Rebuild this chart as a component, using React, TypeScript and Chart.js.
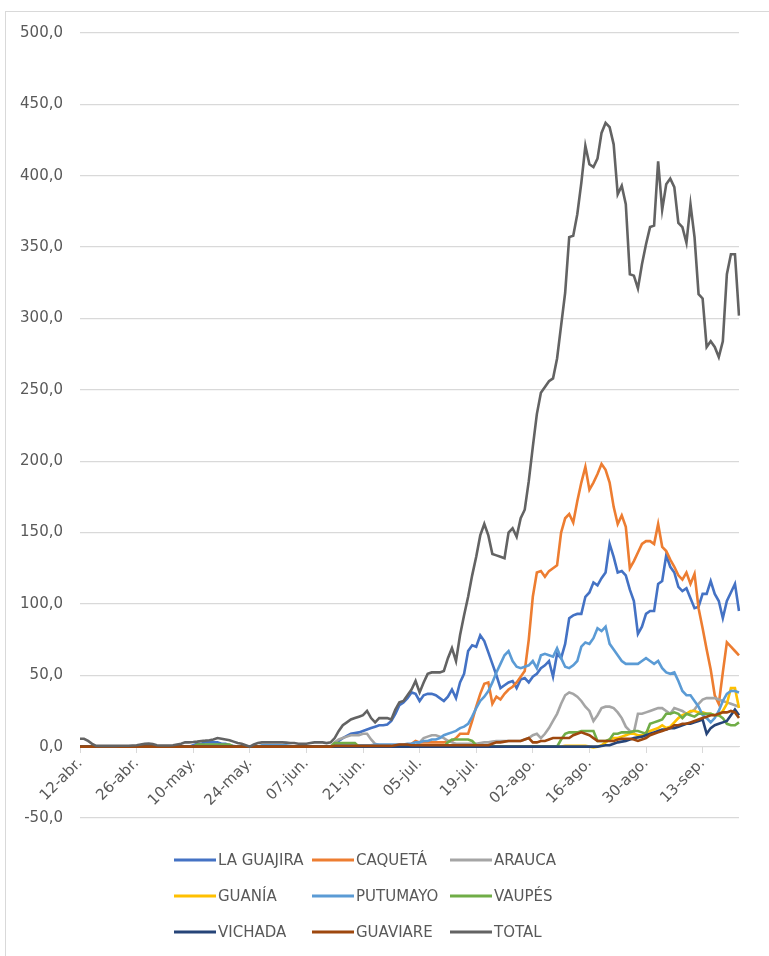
import React, { useEffect, useRef } from 'react';
import { Chart, registerables } from 'chart.js';

Chart.register(...registerables);

// ---- categories (daily, 12-abr. .. 22-sep.) ----
const START_DAY = 12;
const MONTH_NAMES = ['abr.', 'may.', 'jun.', 'jul.', 'ago.', 'sep.'];
const MONTH_LENGTHS = [30, 31, 30, 31, 31, 30];
const DAY_COUNT = 164;
const LABEL_EVERY = 14;

function buildDates(): string[] {
  const out: string[] = [];
  let m = 0;
  let d = START_DAY;
  while (out.length < DAY_COUNT) {
    out.push(String(d).padStart(2, '0') + '-' + MONTH_NAMES[m]);
    d++;
    if (d > MONTH_LENGTHS[m]) { d = 1; m++; }
  }
  return out;
}
const DATES = buildDates();

// ---- y axis ----
const Y_MIN = -50;
const Y_MAX = 500;
const Y_STEP = 50;

// ---- series values ----
const LA_GUAJIRA = [
  0, 0, 0, 0, 0, 0, 0, 0, 0, 0,
  0, 0, 0, 0, 0, 0, 0, 0, 0, 0,
  0, 0, 0, 0, 0, 0, 0, 0, 1, 2,
  2, 3, 3, 3, 3, 2, 2, 1, 0.5, 0,
  0, 0, 0, 0, 0, 0, 0, 0, 0, 0,
  0, 0, 0, 0, 0, 0, 0, 0, 0, 0,
  0, 0, 0, 2, 4, 6, 7.5, 9, 9.5, 10,
  11, 12, 13, 14, 15, 15, 15.5, 18, 23, 29,
  31, 34, 38, 37, 32, 36, 37, 37, 36, 34,
  32, 35, 40, 34, 45, 51, 67, 71, 70, 78,
  74, 66, 58, 50, 41, 43, 45, 46, 41, 47,
  48, 45, 49, 51, 55, 57, 60, 49, 65, 62,
  72, 90, 92, 93, 93, 105, 108, 115, 113, 118,
  122, 142, 133, 122, 123, 120, 110, 102, 79, 84,
  93, 95, 95, 114, 116, 134, 126, 122, 112, 109,
  111, 104, 97, 98, 107, 107, 116, 107, 102, 90,
  102, 108, 114, 95,
];

const CAQUETA = [
  0, 0, 0, 0, 0, 0, 0, 0, 0, 0,
  0, 0, 0, 0, 0, 0, 0, 0, 0, 0,
  0, 0, 0, 0, 0, 0, 0, 0, 0, 0,
  0, 0, 0, 0, 0, 0, 0, 0, 0, 0,
  0, 0, 0, 0, 0, 0, 0, 0, 0, 0,
  0, 0, 0, 0, 0, 0, 0, 0, 0, 0,
  0, 0, 0, 0, 0, 0, 0, 0, 0, 0,
  0, 0, 0, 0, 0, 0, 0, 0, 0, 0,
  0, 0, 2, 4, 3, 3, 3, 3, 3, 3,
  3, 4, 4, 6, 9, 9, 9, 18, 28, 37,
  44, 45, 30, 35, 33, 37, 40, 42, 45, 49,
  53, 75, 105, 122, 123, 119, 123, 125, 127, 150,
  160, 163, 157, 172, 185, 196, 180, 185, 191, 198,
  194, 185, 168, 156, 162, 154, 125, 130, 136, 142,
  144, 144, 142, 156, 140, 137, 131, 126, 120, 117,
  122, 114, 121, 97, 83, 68, 54, 36, 30, 52,
  73, 70, 67, 64,
];

const ARAUCA = [
  0, 0, 0, 0, 0, 0, 0, 0, 0, 0,
  0, 0, 0, 0, 0, 0, 0, 0, 0, 0,
  0, 0, 0, 0, 0, 0, 0, 0, 0, 0,
  0, 0, 0, 0, 0, 0, 0, 0, 0, 0,
  0, 0, 0, 0, 0, 0, 0, 0, 0, 0,
  0, 0, 0, 0, 0, 0, 0, 0, 0, 0,
  0, 0, 0, 3, 5, 6, 7, 8, 8, 8,
  9, 9, 5, 2, 1, 0.5, 0.5, 0.5, 0.5, 0.5,
  0.5, 0.5, 0.5, 0.5, 3, 6, 7, 8, 8, 7,
  6, 4, 3, 2, 2, 2, 2, 2, 2, 2.5,
  3, 3, 3.5, 4, 4, 4, 4, 4, 4, 4,
  5, 6, 8, 9, 6, 9, 13, 18, 23, 30,
  36, 38, 37, 35, 32, 28, 25, 18, 22, 27,
  28, 28, 27, 24, 20, 14, 11, 10, 23, 23,
  24, 25, 26, 27, 27, 25, 23, 27, 26, 25,
  23, 24, 26, 30, 33, 34, 34, 34, 33, 32,
  31, 30, 29, 28,
];

const GUANIA = [
  0, 0, 0, 0, 0, 0, 0, 0, 0, 0,
  0, 0, 0, 0, 0, 0, 0, 0, 0, 0,
  0, 0, 0, 0, 0, 0, 0, 0, 0, 0,
  0, 0, 0, 0, 0, 0, 0, 0, 0, 0,
  0, 0, 0, 0, 0, 0, 0, 0, 0, 0,
  0, 0, 0, 0, 0, 0, 0, 0, 0, 0,
  0, 0, 0, 0, 0, 0, 0, 0, 0, 0,
  0, 0, 0, 0, 0, 0, 0, 0, 0, 0,
  0, 0, 0, 0, 0, 0, 0, 0, 0, 0,
  0, 0, 0, 0, 0, 0, 0, 0, 0, 0,
  0, 0, 0, 0, 0, 0, 0, 0, 0, 0,
  0, 0, 0, 0, 0, 0, 0, 0, 0, 0,
  0.5, 0.5, 0.5, 0.5, 0.5, 0.5, 0, -0.5, 0, 1,
  3, 5, 6, 6, 7, 8, 9, 9, 8, 8,
  10, 11, 12, 13, 15, 13, 14, 17, 20, 22,
  23, 25, 25, 24, 24, 23, 23, 22, 22, 25,
  30, 41, 41, 27,
];

const PUTUMAYO = [
  0, 0, 0, 0, 0, 0, 0, 0, 0, 0,
  0, 0, 0, 0, 0, 0, 0, 0, 0, 0,
  0, 0, 0, 0, 0, 0, 0, 0, 0, 0,
  0, 0, 0, 0, 0, 0, 0, 0, 0, 0,
  0, 0, 0, 0, 0, 1, 1, 1, 1, 1,
  1, 1, 0.5, 0, 0, 0, 0, 0, 0, 0,
  0, 0, 0, 1, 1, 1, 1, 1, 1, 1,
  1, 1, 1, 1.5, 1.5, 1.5, 1.5, 1.5, 1.5, 1.5,
  1.5, 2, 2, 3, 3, 4, 4, 5, 5, 6,
  8, 9, 10, 11, 13, 14, 16, 21, 27, 32,
  35, 39, 45, 52, 58, 64, 67, 60, 56, 55,
  56, 57, 60, 55, 64, 65, 64, 63, 69, 62,
  56, 55, 57, 60, 70, 73, 72, 76, 83, 81,
  84, 72, 68, 64, 60, 58, 58, 58, 58, 60,
  62, 60, 58, 60, 55, 52, 51, 52, 46, 39,
  36, 36, 32, 28, 22, 20, 17, 20, 25, 32,
  37, 39, 39, 38,
];

const VAUPES = [
  0, 0, 0, 0, 0, 0, 0, 0, 0, 0,
  0, 0, 0, 0, 0, 0, 0, 0, 0, 0,
  0, 0, 0, 0, 0, 0, 0, 0, 0, 1.5,
  1.5, 1.5, 1.5, 1.5, 1.5, 1.5, 1.5, 1.5, 0, 0,
  0, 0, 0, 0, 0, 0, 0, 0, 0, 0,
  0, 0, 0, 0, 0, 0, 0, 0, 0, 0,
  0, 0, 0, 2.5, 2.5, 2.5, 2.5, 2.5, 2.5, 0,
  0, 0, 0, 0, 0, 0, 0, 0, 0, 0,
  0, 0, 0, 0, 0, 0, 0, 0, 0, 0,
  0, 3, 5, 5, 5, 5, 5, 4, 1, 0,
  0, 0, 0, 0, 0, 0, 0, 0, 0, 0,
  0, 0, 0, 0, 0, 0, 0, 0, 0, 5,
  9, 10, 10, 10, 11, 11, 11, 11, 4, 4,
  4, 5, 9, 9, 10, 10, 10, 11, 11, 10,
  9, 16, 17, 18, 19, 23, 23, 24, 23, 20,
  23, 22, 21, 23, 23, 23, 23, 22, 22, 20,
  16, 15, 15, 17,
];

const VICHADA = [
  0, 0, 0, 0, 0, 0, 0, 0, 0, 0,
  0, 0, 0, 0, 0, 0, 0, 0, 0, 0,
  0, 0, 0, 0, 0, 0, 0, 0, 0, 0,
  0, 0, 0, 0, 0, 0, 0, 0, 0, 0,
  0, 0, 0, 0, 0, 0, 0, 0, 0, 0,
  0, 0, 0, 0, 0, 0, 0, 0, 0, 0,
  0, 0, 0, 0, 0, 0, 0, 0, 0, 0,
  0, 0, 0, 0, 0, 0, 0, 0, 0, 0,
  0, 0, 0, 0, 0, 0, 0, 0, 0, 0,
  0, 0, 0, 0, 0, 0, 0, 0, 0, 0,
  0, 0, 0, 0, 0, 0, 0, 0, 0, 0,
  0, 0, 0, 0, 0, 0, 0, 0, 0, 0,
  0, 0, 0, 0, 0, 0, 0, 0, 0, 0.5,
  1, 1, 2, 3, 3.5, 4, 5, 6, 6.5, 7,
  8, 9, 10, 11, 12, 12, 13, 13, 14, 15,
  16, 16, 17, 18, 19, 9, 13, 15, 16, 17,
  18, 22, 26, 22,
];

const GUAVIARE = [
  0, 0, 0, 0, 0, 0, 0, 0, 0, 0,
  0, 0, 0, 0, 0, 0, 0, 0, 0, 0,
  0, 0, 0, 0, 0, 0, 0, 0, 0, 0,
  0, 0, 0, 0, 0, 0, 0, 0, 0, 0,
  0, 0, 0, 0, 0, 0, 0, 0, 0, 0,
  0, 0, 0, 0, 0, 0, 0, 0, 0, 0,
  0, 0, 0, 0.5, 0.5, 0.5, 0.5, 0.5, 0.5, 0.5,
  0.5, 0.5, 0.5, 0.5, 0.5, 0.5, 0.5, 0.5, 1, 1.5,
  1.5, 1.5, 1, 1, 1, 1, 1, 1, 1, 1,
  1, 1, 1, 1, 1, 1, 1, 1, 1, 1,
  1, 1, 2, 3, 3, 3.5, 4, 4, 4, 4,
  5, 6, 3, 3, 4, 4, 5, 6, 6, 6,
  6, 6, 8, 9, 10, 9, 8, 6, 4, 4,
  4, 4, 4, 5, 5.5, 5.5, 5.5, 5, 4, 5,
  6, 8, 9, 10, 11, 12, 13, 15, 15, 16,
  16, 17, 18, 19, 20, 21, 22, 22, 23, 24,
  24, 25, 24, 20,
];

const TOTAL = [
  5.5, 5.5, 4, 2, 0.5, 0.5, 0.5, 0.5, 0.5, 0.5,
  0.6, 0.6, 0.6, 0.8, 1, 1.5, 2, 2.2, 1.8, 1,
  0.8, 0.8, 0.8, 1, 1.5, 2, 3, 3, 3.2, 3.5,
  4, 4.2, 4.5, 5, 6, 5.5, 5, 4.5, 3.5, 2.5,
  2, 1, 0, 1.5, 2.5, 3, 3, 3, 3, 3,
  3, 2.8, 2.5, 2.5, 2, 2, 2, 2.5, 3, 3,
  3, 2.5, 3, 6, 11, 15, 17, 19, 20, 21,
  22, 25, 20, 17, 20, 20, 20, 19, 26, 31,
  32, 36, 40, 46, 38, 45, 51, 52, 52, 52,
  53, 62, 69, 60, 78, 92, 105, 120, 133, 148,
  156, 148, 135, 134, 133, 132, 150, 153, 147, 160,
  166, 186, 210, 233, 248, 252, 256, 258, 272, 295,
  318, 357, 358, 373, 395, 421, 408, 406, 412, 430,
  437, 434, 422, 387, 393, 380, 331, 330, 321, 338,
  352, 364, 365, 410, 376, 394, 398, 392, 367, 364,
  353, 380, 357, 317, 314, 280, 284, 280, 273, 284,
  331, 345, 345, 302,
];

const SERIES_NAMES = ['LA GUAJIRA', 'CAQUETÁ', 'ARAUCA', 'GUANÍA', 'PUTUMAYO', 'VAUPÉS', 'VICHADA', 'GUAVIARE', 'TOTAL'];
const SERIES_VALUES = [LA_GUAJIRA, CAQUETA, ARAUCA, GUANIA, PUTUMAYO, VAUPES, VICHADA, GUAVIARE, TOTAL];
const SERIES_COLORS = ['#4472C4', '#ED7D31', '#A5A5A5', '#FFC000', '#5B9BD5', '#70AD47', '#264478', '#9E480E', '#636363'];

const FONT_FAMILY = '"DejaVu Sans", "Noto Sans", sans-serif';
const TEXT_COLOR = '#595959';
const GRID_COLOR = '#d9d9d9';

const W = 769;
const H = 956;

// Excel-like legend: 3 aligned columns
const gridLegend = {
  id: 'gridLegend',
  afterDraw(chart: any) {
    const ctx: CanvasRenderingContext2D = chart.ctx;
    const colX = [174, 312, 450];
    const firstRowY = chart.chartArea.bottom + 42;
    const rowGap = 36;
    ctx.save();
    ctx.font = `15px ${FONT_FAMILY}`;
    ctx.fillStyle = TEXT_COLOR;
    ctx.textBaseline = 'middle';
    ctx.textAlign = 'left';
    chart.data.datasets.forEach((ds: any, i: number) => {
      const x = colX[i % 3];
      const y = firstRowY + Math.floor(i / 3) * rowGap;
      ctx.strokeStyle = ds.borderColor;
      ctx.lineWidth = 3;
      ctx.lineCap = 'butt';
      ctx.beginPath();
      ctx.moveTo(x, y);
      ctx.lineTo(x + 42, y);
      ctx.stroke();
      ctx.fillText(ds.label, x + 44, y + 1);
    });
    ctx.restore();
  },
};

export default function App() {
  const canvasRef = useRef<HTMLCanvasElement>(null);

  useEffect(() => {
    const canvas = canvasRef.current;
    if (!canvas) return;
    const chart = new Chart(canvas, {
      type: 'line',
      data: {
        labels: DATES,
        datasets: SERIES_NAMES.map((name, i) => ({
          label: name,
          data: SERIES_VALUES[i],
          borderColor: SERIES_COLORS[i],
          backgroundColor: SERIES_COLORS[i],
          borderWidth: 2.6,
          pointRadius: 0,
          pointHoverRadius: 0,
          tension: 0,
          fill: false,
          order: SERIES_NAMES.length - i,
        })),
      },
      options: {
        responsive: false,
        animation: false,
        layout: { padding: { left: 0, right: 30, top: 33, bottom: 138 } },
        plugins: {
          legend: { display: false },
          tooltip: { enabled: false },
        },
        scales: {
          x: {
            type: 'category',
            position: { y: 0 } as any,
            offset: false,
            grid: {
              drawOnChartArea: false,
              drawTicks: true,
              tickLength: 6,
              color: GRID_COLOR,
            },
            border: { display: true, color: GRID_COLOR },
            ticks: {
              autoSkip: false,
              maxRotation: 45,
              minRotation: 45,
              color: TEXT_COLOR,
              font: { family: FONT_FAMILY, size: 15 },
              padding: 2,
            },
            afterBuildTicks: (scale: any) => {
              scale.ticks = scale.ticks.filter((t: any) => t.value % LABEL_EVERY === 0);
            },
            afterFit: (scale: any) => {
              scale.height = 0;
            },
          },
          y: {
            min: Y_MIN,
            max: Y_MAX,
            ticks: {
              stepSize: Y_STEP,
              color: TEXT_COLOR,
              font: { family: FONT_FAMILY, size: 15 },
              padding: 17,
              callback: (v: any) => Number(v).toFixed(1).replace('.', ','),
            },
            grid: { color: GRID_COLOR, drawTicks: false, lineWidth: 1.3 },
            border: { display: false },
            afterFit: (scale: any) => {
              scale.width = 80;
            },
          },
        },
      },
      plugins: [gridLegend],
    });
    return () => chart.destroy();
  }, []);

  return (
    <div style={{ position: 'absolute', left: 0, top: 0, width: W, height: H, overflow: 'hidden', background: '#fff' }}>
      <div style={{ position: 'absolute', left: 5, top: 11, width: W + 20, height: H + 20, border: `1.5px solid ${GRID_COLOR}` }} />
      <canvas ref={canvasRef} width={W} height={H} style={{ position: 'absolute', left: 0, top: 0, width: W, height: H }} />
    </div>
  );
}
